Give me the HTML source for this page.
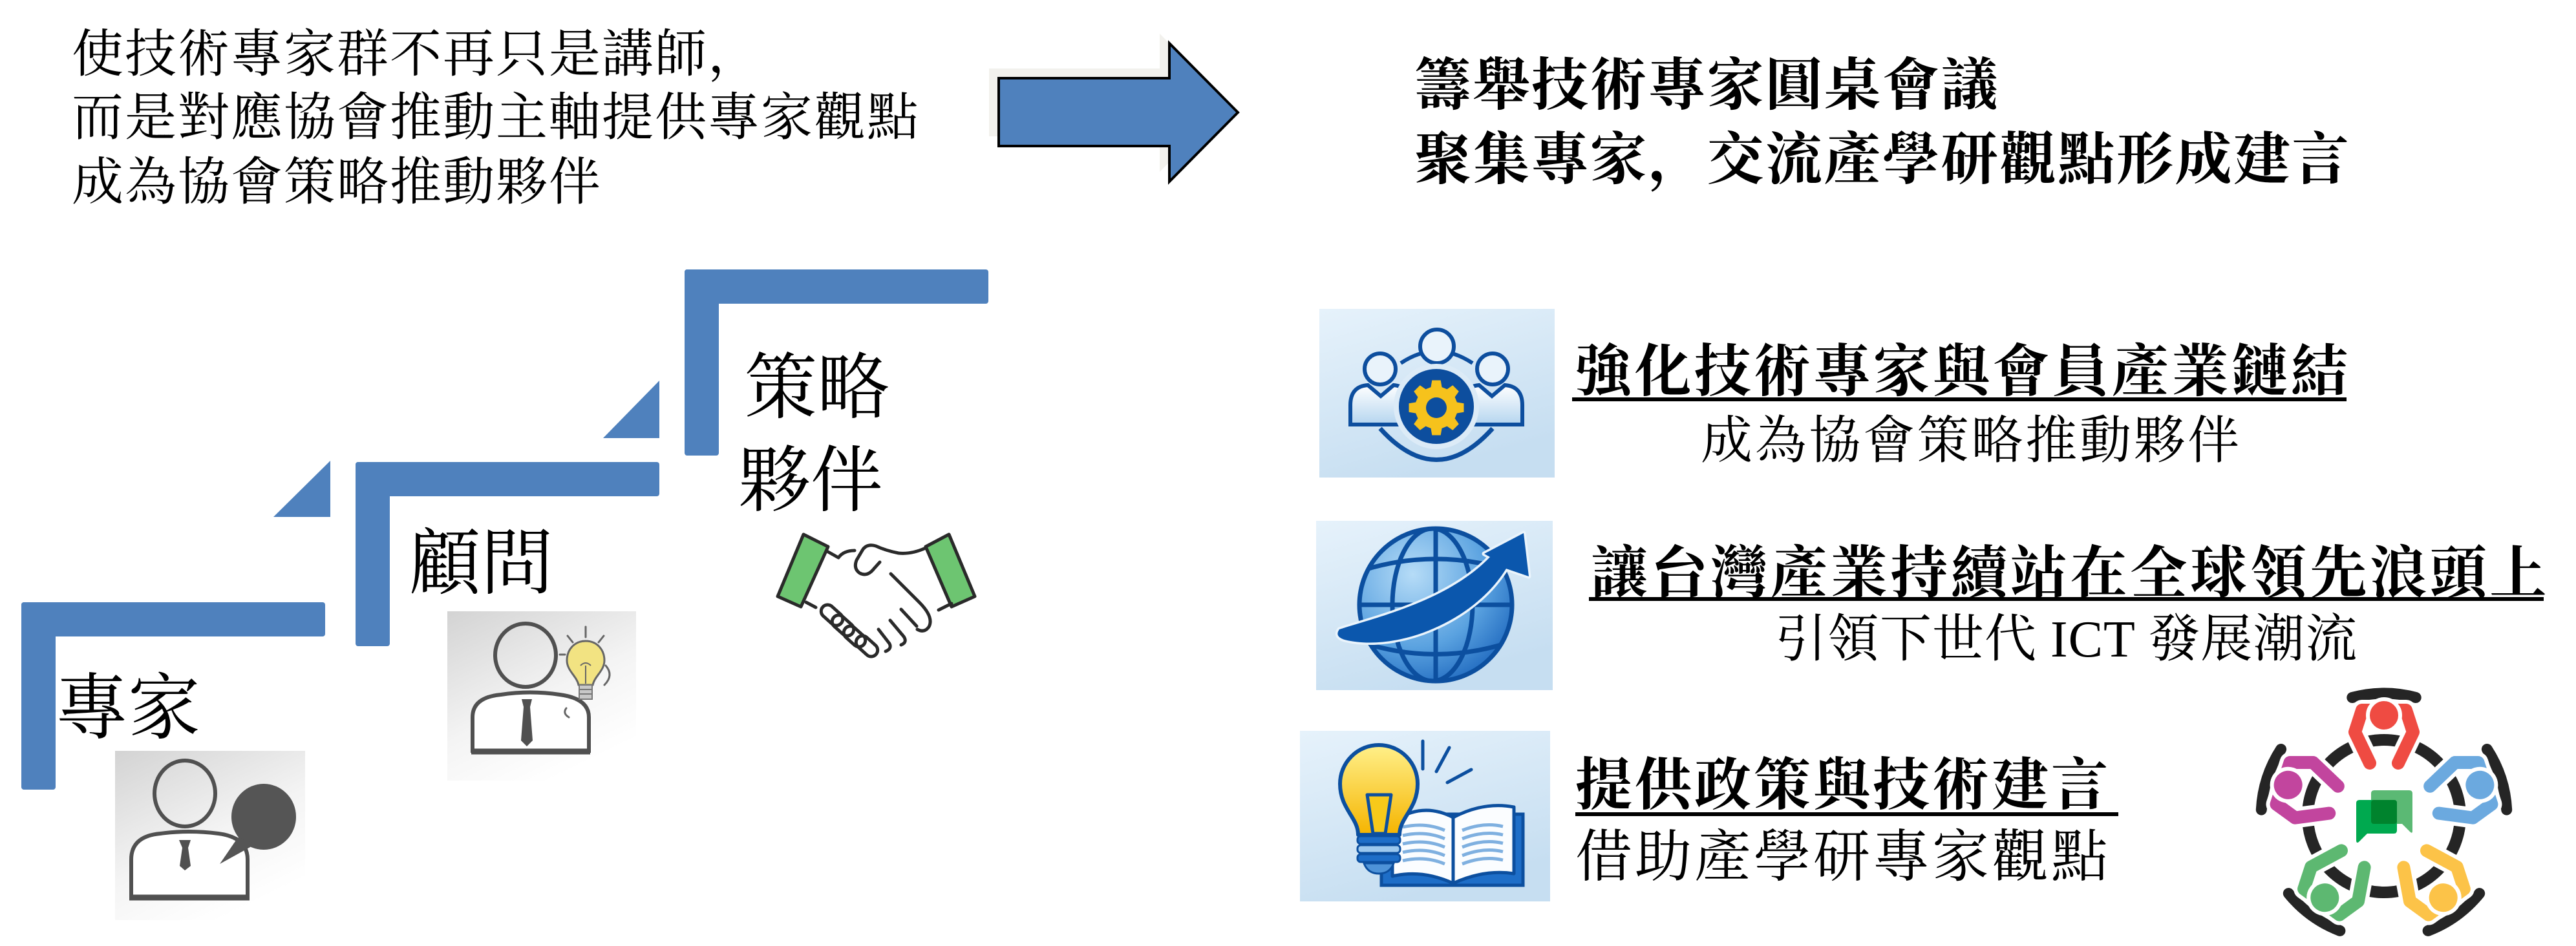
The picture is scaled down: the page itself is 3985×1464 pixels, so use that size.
<!DOCTYPE html>
<html><head><meta charset="utf-8"><style>
html,body{margin:0;padding:0;background:#fff;}
svg{display:block;}
.t{font-family:"Liberation Serif","Noto Serif CJK SC",serif;fill:#000;}
</style></head><body>
<svg width="3985" height="1464" viewBox="0 0 3985 1464" xmlns="http://www.w3.org/2000/svg">
<defs>
<linearGradient id="bgb" x1="0" y1="0" x2="0.4" y2="1"><stop offset="0" stop-color="#e6f2fb"/><stop offset="1" stop-color="#c6def1"/></linearGradient>
<linearGradient id="bgg" x1="0" y1="0" x2="0.55" y2="1"><stop offset="0" stop-color="#d3d3d3"/><stop offset="0.6" stop-color="#f4f4f4"/><stop offset="1" stop-color="#ffffff"/></linearGradient>
<linearGradient id="body" x1="0" y1="0" x2="0" y2="1"><stop offset="0" stop-color="#ffffff"/><stop offset="1" stop-color="#b5d5ef"/></linearGradient>
<radialGradient id="globe" cx="0.35" cy="0.3" r="0.8"><stop offset="0" stop-color="#b6dcf7"/><stop offset="0.6" stop-color="#5aa2e0"/><stop offset="1" stop-color="#1c66bd"/></radialGradient>
<linearGradient id="bulb" x1="0" y1="0" x2="0" y2="1"><stop offset="0" stop-color="#fff08a"/><stop offset="1" stop-color="#f5b400"/></linearGradient>
<clipPath id="gc"><circle cx="2221" cy="936" r="115"/></clipPath>
</defs>

<!-- top-left text -->
<text class="t" x="111" y="111" font-size="80" letter-spacing="2">使技術專家群不再只是講師，</text>
<text class="t" x="111" y="209" font-size="80" letter-spacing="2">而是對應協會推動主軸提供專家觀點</text>
<text class="t" x="111" y="309" font-size="80" letter-spacing="2">成為協會策略推動夥伴</text>

<!-- big arrow -->
<polygon points="1530,106 1794,106 1794,52 1900,159 1794,266 1794,211 1530,211" fill="#f2f1ed"/>
<polygon points="1545,121 1809,121 1809,67 1915,174 1809,281 1809,226 1545,226" fill="#4f81bd" stroke="#000" stroke-width="4" stroke-linejoin="miter"/>

<!-- title right -->
<text class="t" x="2188" y="162" font-size="88" font-weight="bold" letter-spacing="2.5">籌舉技術專家圓桌會議</text>
<text class="t" x="2188" y="277" font-size="88" font-weight="bold" letter-spacing="2.5">聚集專家，交流產學研觀點形成建言</text>

<!-- staircase -->
<g fill="#4f81bd">
<rect x="33" y="932" width="470" height="53" rx="4"/>
<rect x="33" y="932" width="53" height="290" rx="4"/>
<rect x="550" y="715" width="470" height="53" rx="4"/>
<rect x="550" y="715" width="53" height="285" rx="4"/>
<polygon points="423,800 511,800 511,713"/>
<rect x="1059" y="417" width="470" height="53" rx="4"/>
<rect x="1059" y="417" width="53" height="288" rx="4"/>
<polygon points="933,678 1020,678 1020,589"/>
</g>

<text class="t" x="86" y="1134" font-size="112">專家</text>
<text class="t" x="632" y="910" font-size="112">顧問</text>
<text class="t" x="1152" y="638" font-size="112">策略</text>
<text class="t" x="1142" y="782" font-size="112">夥伴</text>

<!-- expert icon -->
<rect x="178" y="1162" width="294" height="262" fill="url(#bgg)"/>
<g stroke="#505050" fill="none" stroke-width="6">
<ellipse cx="286" cy="1228" rx="47" ry="51"/>
<path d="M203,1388 V1330 Q203,1294 248,1290 Q292,1284 338,1290 Q383,1296 383,1330 V1388 Z" fill="#fff"/>
<line x1="200" y1="1389" x2="386" y2="1389" stroke-width="9"/>
</g>
<polygon points="277,1300 295,1300 291,1312 295,1340 286,1347 278,1340 282,1312" fill="#505050"/>
<ellipse cx="408" cy="1264" rx="50" ry="51" fill="#555"/>
<polygon points="368,1296 396,1306 340,1337" fill="#555"/>

<!-- consultant icon -->
<rect x="692" y="946" width="292" height="262" fill="url(#bgg)"/>
<g stroke="#505050" fill="none" stroke-width="6">
<ellipse cx="813" cy="1014" rx="47" ry="49"/>
<path d="M731,1162 V1110 Q731,1079 775,1075 Q820,1068 866,1075 Q911,1081 911,1110 V1162 Z" fill="#fff"/>
<line x1="729" y1="1163" x2="913" y2="1163" stroke-width="9"/>
</g>
<polygon points="807,1082 823,1082 820,1094 824,1146 815,1155 806,1146 810,1094" fill="#505050"/>
<g stroke="#666" stroke-width="3" fill="none" stroke-linecap="round">
<line x1="906" y1="970" x2="906" y2="986"/>
<line x1="878" y1="984" x2="886" y2="994"/>
<line x1="934" y1="984" x2="926" y2="994"/>
<line x1="866" y1="1013" x2="874" y2="1013"/>
<path d="M937,1030 Q950,1045 935,1060"/>
<path d="M876,1096 Q870,1104 880,1110"/>
</g>
<path d="M906,992 C888,992 877,1006 877,1022 C877,1038 892,1046 895,1060 L917,1060 C920,1046 935,1038 935,1022 C935,1006 924,992 906,992 Z" fill="#f2e382" stroke="#666" stroke-width="3"/>
<rect x="896" y="1060" width="20" height="22" fill="#c8c8c8" stroke="#777" stroke-width="2"/>
<line x1="896" y1="1067" x2="916" y2="1067" stroke="#777" stroke-width="2"/>
<line x1="896" y1="1074" x2="916" y2="1074" stroke="#777" stroke-width="2"/>
<path d="M898,1030 Q906,1022 914,1030 M906,1030 V1058" stroke="#666" stroke-width="2" fill="none"/>

<!-- handshake -->
<g stroke="#2a2a2a" stroke-width="5" stroke-linejoin="round" stroke-linecap="round">
<polygon points="1243,827 1281,846 1239,939 1203,923" fill="#6dc571"/>
<polygon points="1432,846 1468,827 1508,923 1472,939" fill="#6dc571"/>
</g>
<g stroke="#2a2a2a" stroke-width="5" fill="none" stroke-linecap="round" stroke-linejoin="round">
<path d="M1281,854 L1297,863 Q1305,852 1322,852"/>
<path d="M1247,932 L1262,940"/>
<path d="M1452,944 L1472,934"/>
<path d="M1432,848 Q1410,858 1390,856 Q1370,852 1355,845 Q1342,841 1335,850 L1325,867 Q1320,880 1330,887 Q1342,893 1352,880 L1361,870"/>
<path d="M1378,888 L1422,932 Q1445,955 1437,970 Q1430,980 1419,974"/>
<path d="M1394,943 L1418,969"/>
<path d="M1377,960 L1398,985 Q1404,994 1394,998"/>
<path d="M1359,974 L1376,996 Q1380,1004 1370,1008"/>
<rect x="1268" y="942" width="38" height="20" rx="10" transform="rotate(42 1287 952)"/>
<rect x="1285" y="958" width="38" height="20" rx="10" transform="rotate(42 1304 968)"/>
<rect x="1303" y="975" width="38" height="20" rx="10" transform="rotate(42 1322 985)"/>
<rect x="1322" y="990" width="38" height="20" rx="10" transform="rotate(42 1341 1000)"/>
</g>

<!-- icon 1: people + gear -->
<rect x="2041" y="478" width="364" height="261" fill="url(#bgb)"/>
<g stroke="#0d4e9e" stroke-width="6" fill="none">
<path d="M2135,663 Q2222,760 2309,663" stroke-width="7"/>
<path d="M2167,562 Q2222,525 2278,562"/>
<circle cx="2223" cy="536" r="26" fill="#e9f3fb"/>
<circle cx="2135" cy="571" r="24" fill="#e9f3fb"/>
<circle cx="2309" cy="571" r="24" fill="#e9f3fb"/>
<path d="M2089,657 L2089,627 Q2089,598 2116,596 L2136,613 L2156,596 Q2180,598 2186,625 L2186,657 Z" fill="url(#body)"/>
<path d="M2355,657 L2355,627 Q2355,598 2328,596 L2308,613 L2288,596 Q2264,598 2258,625 L2258,657 Z" fill="url(#body)"/>
</g>
<circle cx="2222" cy="629" r="66" fill="#dcebf7"/>
<circle cx="2222" cy="629" r="58" fill="#0d4e9e"/>
<g transform="translate(2222,631)">
<polygon fill="#f6c21c" points="31.9,-8.5 42.5,-6.7 42.5,6.7 31.9,8.5 28.6,16.5 34.8,25.3 25.3,34.8 16.5,28.6 8.5,31.9 6.7,42.5 -6.7,42.5 -8.5,31.9 -16.5,28.6 -25.3,34.8 -34.8,25.3 -28.6,16.5 -31.9,8.5 -42.5,6.7 -42.5,-6.7 -31.9,-8.5 -28.6,-16.5 -34.8,-25.3 -25.3,-34.8 -16.5,-28.6 -8.5,-31.9 -6.7,-42.5 6.7,-42.5 8.5,-31.9 16.5,-28.6 25.3,-34.8 34.8,-25.3 28.6,-16.5"/>
<circle r="16" fill="#0d4e9e"/>
</g>

<!-- icon 2: globe -->
<rect x="2036" y="806" width="366" height="262" fill="url(#bgb)"/>
<circle cx="2221" cy="936" r="118" fill="url(#globe)" stroke="#0c4f9f" stroke-width="7"/>
<g clip-path="url(#gc)" stroke="#0c4f9f" stroke-width="7" fill="none">
<line x1="2221" y1="815" x2="2221" y2="1056"/>
<ellipse cx="2216" cy="936" rx="62" ry="118"/>
<line x1="2100" y1="936" x2="2342" y2="936"/>
<path d="M2110,882 Q2221,848 2332,882"/>
<path d="M2110,995 Q2221,1030 2332,995"/>
</g>
<path d="M2072,974 C2130,955 2240,930 2305,862 L2296,857 L2357,825 L2365,892 L2330,880 C2280,962 2160,1010 2080,990 Q2064,985 2072,974 Z" fill="#0b57ad" stroke="#eaf4fc" stroke-width="7" stroke-linejoin="round"/>
<path d="M2072,974 C2130,955 2240,930 2305,862 L2296,857 L2357,825 L2365,892 L2330,880 C2280,962 2160,1010 2080,990 Q2064,985 2072,974 Z" fill="#0b57ad"/>

<!-- icon 3: bulb + book -->
<rect x="2011" y="1131" width="387" height="264" fill="url(#bgb)"/>
<g stroke="#0c4f9f" stroke-width="5" stroke-linecap="round">
<line x1="2201" y1="1147" x2="2201" y2="1190"/>
<line x1="2242" y1="1157" x2="2222" y2="1194"/>
<line x1="2276" y1="1191" x2="2239" y2="1211"/>
</g>
<rect x="2137" y="1260" width="219" height="110" fill="#1e6ec8" stroke="#0c4f9f" stroke-width="5"/>
<path d="M2154,1272 Q2200,1240 2248,1265 Q2296,1240 2342,1249 L2342,1352 Q2296,1345 2248,1367 Q2200,1345 2154,1356 Z" fill="#fbfdff" stroke="#0c4f9f" stroke-width="5" stroke-linejoin="round"/>
<line x1="2248" y1="1265" x2="2248" y2="1366" stroke="#0c4f9f" stroke-width="5"/>
<g stroke="#7fb0e0" stroke-width="5" fill="none">
<path d="M2170,1280 Q2205,1272 2235,1285"/><path d="M2170,1293 Q2205,1285 2235,1298"/><path d="M2170,1306 Q2205,1298 2235,1311"/><path d="M2170,1319 Q2205,1311 2235,1324"/><path d="M2170,1332 Q2205,1324 2235,1337"/>
<path d="M2262,1285 Q2295,1272 2325,1279"/><path d="M2262,1298 Q2295,1285 2325,1292"/><path d="M2262,1311 Q2295,1298 2325,1305"/><path d="M2262,1324 Q2295,1311 2325,1318"/><path d="M2262,1337 Q2295,1324 2325,1331"/>
</g>
<path d="M2101,1292 C2101,1265 2073,1252 2073,1213 A60,60 0 1 1 2193,1213 C2193,1252 2165,1265 2165,1292 Z" fill="url(#bulb)" stroke="#0c4f9f" stroke-width="6" stroke-linejoin="round"/>
<path d="M2115,1230 L2152,1230 L2143,1290 L2124,1290 Z" fill="#f7c91a" stroke="#0c4f9f" stroke-width="5" stroke-linejoin="round"/>
<rect x="2100" y="1294" width="66" height="12" rx="5" fill="#1e6ec8" stroke="#0c4f9f" stroke-width="3"/>
<rect x="2100" y="1308" width="66" height="12" rx="5" fill="#9cc8ee" stroke="#0c4f9f" stroke-width="3"/>
<rect x="2100" y="1322" width="66" height="12" rx="5" fill="#1e6ec8" stroke="#0c4f9f" stroke-width="3"/>
<path d="M2110,1336 H2156 Q2150,1352 2133,1352 Q2116,1352 2110,1336 Z" fill="#4e93d8" stroke="#0c4f9f" stroke-width="3"/>

<!-- right texts -->
<text class="t" x="2436" y="605" font-size="88" font-weight="bold" textLength="1196" lengthAdjust="spacing">強化技術專家與會員產業鏈結</text>
<rect x="2432" y="615" width="1198" height="6" fill="#000"/>
<text class="t" x="2631" y="709" font-size="80" letter-spacing="3.7">成為協會策略推動夥伴</text>

<text class="t" x="2461" y="917" font-size="88" font-weight="bold" letter-spacing="4.7">讓台灣產業持續站在全球領先浪頭上</text>
<rect x="2458" y="924" width="1477" height="6" fill="#000"/>
<text class="t" x="2746" y="1016" font-size="80" letter-spacing="1">引領下世代 ICT 發展潮流</text>

<text class="t" x="2437" y="1245" font-size="88" font-weight="bold" letter-spacing="4">提供政策與技術建言</text>
<rect x="2437" y="1257" width="840" height="6" fill="#000"/>
<text class="t" x="2437" y="1356" font-size="88" letter-spacing="4">借助產學研專家觀點</text>

<!-- round table -->
<circle cx="3688" cy="1263" r="118" fill="none" stroke="#252525" stroke-width="18"/>
<g stroke="#252525" stroke-width="17" fill="none" stroke-linecap="round">
<path d="M3638.8,1079.5 A190,190 0 0 1 3737.2,1079.5"/>
<path d="M3847.4,1159.5 A190,190 0 0 1 3877.7,1253.1"/>
<path d="M3835.7,1382.6 A190,190 0 0 1 3756.1,1440.4"/>
<path d="M3619.9,1440.4 A190,190 0 0 1 3540.3,1382.6"/>
<path d="M3498.3,1253.1 A190,190 0 0 1 3528.6,1159.5"/>
</g>
<g transform="translate(3688,1263) rotate(0) translate(0,-156)">
<path d="M-22,74 L-45,26 L-34,-8 L34,-8 L45,26 L22,74" fill="none" stroke="#fff" stroke-width="32" stroke-linejoin="round" stroke-linecap="round"/>
<path d="M-22,74 L-45,26 L-34,-8 L34,-8 L45,26 L22,74" fill="none" stroke="#ef4b42" stroke-width="20" stroke-linejoin="round" stroke-linecap="round"/>
<circle r="25" fill="#ef4b42" stroke="#fff" stroke-width="6"/>
</g>
<g transform="translate(3688,1263) rotate(72) translate(0,-156)">
<path d="M-22,74 L-45,26 L-34,-8 L34,-8 L45,26 L22,74" fill="none" stroke="#fff" stroke-width="32" stroke-linejoin="round" stroke-linecap="round"/>
<path d="M-22,74 L-45,26 L-34,-8 L34,-8 L45,26 L22,74" fill="none" stroke="#6ba9df" stroke-width="20" stroke-linejoin="round" stroke-linecap="round"/>
<circle r="25" fill="#6ba9df" stroke="#fff" stroke-width="6"/>
</g>
<g transform="translate(3688,1263) rotate(144) translate(0,-156)">
<path d="M-22,74 L-45,26 L-34,-8 L34,-8 L45,26 L22,74" fill="none" stroke="#fff" stroke-width="32" stroke-linejoin="round" stroke-linecap="round"/>
<path d="M-22,74 L-45,26 L-34,-8 L34,-8 L45,26 L22,74" fill="none" stroke="#fcc348" stroke-width="20" stroke-linejoin="round" stroke-linecap="round"/>
<circle r="25" fill="#fcc348" stroke="#fff" stroke-width="6"/>
</g>
<g transform="translate(3688,1263) rotate(216) translate(0,-156)">
<path d="M-22,74 L-45,26 L-34,-8 L34,-8 L45,26 L22,74" fill="none" stroke="#fff" stroke-width="32" stroke-linejoin="round" stroke-linecap="round"/>
<path d="M-22,74 L-45,26 L-34,-8 L34,-8 L45,26 L22,74" fill="none" stroke="#5db871" stroke-width="20" stroke-linejoin="round" stroke-linecap="round"/>
<circle r="25" fill="#5db871" stroke="#fff" stroke-width="6"/>
</g>
<g transform="translate(3688,1263) rotate(288) translate(0,-156)">
<path d="M-22,74 L-45,26 L-34,-8 L34,-8 L45,26 L22,74" fill="none" stroke="#fff" stroke-width="32" stroke-linejoin="round" stroke-linecap="round"/>
<path d="M-22,74 L-45,26 L-34,-8 L34,-8 L45,26 L22,74" fill="none" stroke="#c2459e" stroke-width="20" stroke-linejoin="round" stroke-linecap="round"/>
<circle r="25" fill="#c2459e" stroke="#fff" stroke-width="6"/>
</g>
<path d="M3673,1223 H3727 Q3732,1223 3732,1228 V1286 Q3732,1291 3728,1287 L3716,1275 H3673 Q3668,1275 3668,1270 V1228 Q3668,1223 3673,1223 Z" fill="#5bb974"/>
<path d="M3650,1238 H3703 Q3708,1238 3708,1243 V1285 Q3708,1290 3703,1290 H3662 L3649,1303 Q3645,1306 3645,1300 V1243 Q3645,1238 3650,1238 Z" fill="#00a94f"/>
<rect x="3668" y="1238" width="40" height="37" rx="4" fill="#00832d"/>
</svg>
</body></html>
